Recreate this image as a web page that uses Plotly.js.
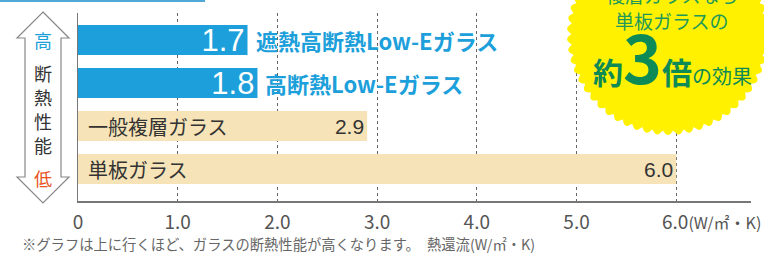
<!DOCTYPE html>
<html><head><meta charset="utf-8">
<script src="https://cdn.plot.ly/plotly-3.0.1.min.js"></script>
<style>html,body{margin:0;padding:0;background:#fff;}#chart{width:764px;height:259px;}</style>
</head><body><div id="chart"></div>
<script>
// ---- data ----
const categories = ["遮熱高断熱Low-Eガラス", "高断熱Low-Eガラス", "一般複層ガラス", "単板ガラス"];
const values = [1.7, 1.8, 2.9, 6.0];
const valueLabels = ["1.7", "1.8", "2.9", "6.0"];
const isLowE = [true, true, false, false];
const tickValues = [0, 1, 2, 3, 4, 5, 6];
const tickLabels = ["0", "1.0", "2.0", "3.0", "4.0", "5.0", "6.0"];
const unitLabel = "(W/㎡・K)";
const footnote = "※グラフは上に行くほど、ガラスの断熱性能が高くなります。　熱還流(W/㎡・K)";
const arrowChars = ["高", "断", "熱", "性", "能", "低"];
const badgeLines = ["複層ガラスなら", "単板ガラスの"];

// ---- layout geometry ----
const W = 764, H = 259, L = 78, R = 13, T = 13, B = 58;
const PW = W - L - R, PH = H - T - B;
const px = x => (x - L) / PW;
const py = y => (H - B - y) / PH;
const FONT = "Noto Sans CJK JP, Noto Sans, sans-serif";
const NUMFONT = "Liberation Sans, Arial, sans-serif";
const BLUE = "#1c9fda", BEIGE = "#f6e4b8";

const barColors = isLowE.map(b => b ? BLUE : BEIGE);
const textColors = isLowE.map(b => b ? "#ffffff" : "#333333");
const textSizes = isLowE.map(b => b ? 31 : 21);

const trace = {
  type: "bar", orientation: "h",
  x: values, y: categories,
  width: 0.7,
  marker: {color: barColors, line: {width: 0}},
  text: valueLabels,
  textposition: "inside", insidetextanchor: "end", textangle: 0,
  constraintext: "none",
  textfont: {family: NUMFONT, color: textColors, size: textSizes},
  hoverinfo: "skip"
};

const annotations = [];
categories.forEach((c, i) => {
  if (isLowE[i]) {
    annotations.push({x: values[i], y: c, xref: "x", yref: "y", text: "<b>" + c + "</b>",
      showarrow: false, xanchor: "left", yanchor: "middle", xshift: 6,
      font: {family: FONT, size: 22, color: BLUE}});
  } else {
    annotations.push({x: 0, y: c, xref: "x", yref: "y", text: c,
      showarrow: false, xanchor: "left", yanchor: "middle", xshift: 8,
      font: {family: FONT, size: 20, color: "#333333"}});
  }
});
annotations.push({x: px(660), y: 0, xref: "paper", yref: "paper",
  text: "<span style=\"font-size:19px\">" + tickLabels[tickLabels.length - 1] + "</span>" + unitLabel,
  showarrow: false, xanchor: "left", yanchor: "top", yshift: -4,
  font: {family: FONT, size: 16, color: "#555555"}});
annotations.push({x: px(20), y: py(243), xref: "paper", yref: "paper", text: footnote, showarrow: false,
  xanchor: "left", yanchor: "middle", font: {family: FONT, size: 14.3, color: "#666666"}});

// arrow text
const arrowY = [40, 73, 97, 121, 145, 178];
arrowChars.forEach((ch, i) => {
  let col = "#333333";
  if (i === 0) col = BLUE;
  if (i === arrowChars.length - 1) col = "#e8541e";
  annotations.push({x: px(43), y: py(arrowY[i]), xref: "paper", yref: "paper", text: ch, showarrow: false,
    xanchor: "center", yanchor: "middle", font: {family: FONT, size: 18, color: col}});
});

// badge texts
annotations.push({x: px(672), y: py(-6), xref: "paper", yref: "paper", text: badgeLines[0], showarrow: false,
  xanchor: "center", yanchor: "middle", font: {family: FONT, size: 19, color: "#22995a"}});
annotations.push({x: px(672), y: py(21), xref: "paper", yref: "paper", text: badgeLines[1], showarrow: false,
  xanchor: "center", yanchor: "middle", font: {family: FONT, size: 19, color: "#22995a"}});
annotations.push({x: px(672), y: py(55), xref: "paper", yref: "paper",
  text: "<b><span style=\"font-size:30px\">約</span><span style=\"font-size:66px\">3</span><span style=\"font-size:30px\">倍</span></b><span style=\"font-size:20px\">の効果</span>",
  showarrow: false, xanchor: "center", yanchor: "middle",
  font: {family: FONT, size: 20, color: "#0d8a55"}});

// shapes: badge, arrow, top line
function pathFrom(pts) {
  return "M" + pts.map(p => px(p[0]).toFixed(5) + "," + py(p[1]).toFixed(5)).join(" L") + " Z";
}
const badgePts = [];
const cx = 668, cy = 34, Rb = 101, N = 58, A = 4.5;
for (let k = 0; k <= 720; k++) {
  const th = k / 720 * 2 * Math.PI;
  const r = Rb - A + A * Math.abs(Math.sin(N * th / 2));
  badgePts.push([cx + r * Math.cos(th), cy + r * Math.sin(th)]);
}
const arrowPts = [[43,12],[69,38],[61,38],[61,177],[69,177],[43,203],[17,177],[25,177],[25,38],[17,38]];

const shapes = [
  {type: "path", xref: "paper", yref: "paper", path: pathFrom(badgePts),
   fillcolor: "#fff100", line: {width: 0}, layer: "above"},
  {type: "path", xref: "paper", yref: "paper", path: pathFrom(arrowPts),
   fillcolor: "#ffffff", line: {color: "#888888", width: 1.2}, layer: "above"},
  {type: "line", xref: "paper", yref: "paper", x0: px(0), x1: px(205), y0: py(1), y1: py(1),
   line: {color: "#4fa8d8", width: 2}, layer: "above"}
];

const shownTicks = tickLabels.map((t, i) => i === tickLabels.length - 1 ? "" : t);

const layout = {
  width: W, height: H,
  margin: {l: L, r: R, t: T, b: B, pad: 0},
  paper_bgcolor: "#ffffff", plot_bgcolor: "#ffffff",
  showlegend: false,
  xaxis: {range: [0, 6.75], tickvals: tickValues, ticktext: shownTicks,
    showgrid: true, gridcolor: "#666666", gridwidth: 1, griddash: "3px,3px",
    zeroline: false, showline: true, linecolor: "#777777", linewidth: 1.5,
    ticks: "outside", ticklen: 4, tickcolor: "rgba(0,0,0,0)",
    tickfont: {family: FONT, size: 19, color: "#555555"}, fixedrange: true},
  yaxis: {type: "category", range: [3.744, -0.63], showticklabels: false,
    showgrid: false, zeroline: false, showline: true, linecolor: "#777777", linewidth: 1.5,
    ticks: "", fixedrange: true},
  bargap: 0.3,
  annotations: annotations,
  shapes: shapes
};
Plotly.newPlot("chart", [trace], layout, {staticPlot: true, displayModeBar: false});
</script></body></html>
